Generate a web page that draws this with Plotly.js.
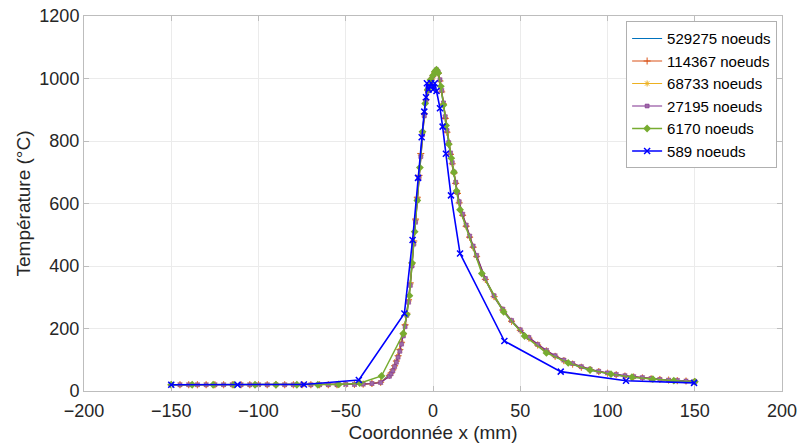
<!DOCTYPE html>
<html>
<head>
<meta charset="utf-8">
<script src="https://cdn.plot.ly/plotly-3.0.1.min.js"></script>
<style>html,body{margin:0;padding:0;background:#fff;}#chart{width:800px;height:448px;}</style>
</head>
<body>
<div id="chart"></div>
<script>
// Shared abscissa for the fine meshes (mm)
const xFine = [-150,-145,-140,-135,-130,-125,-120,-115,-110,-105,-100,-95,-90,-85,-80,-75,-70,-65,-60,-55,-50,-45,-40,-35,-30,-25,
  -24,-23,-22,-21,-20,-19,-18,-17,-16,-15,-14,-13,-12,-11,-10,-9,-8,-7,-6,-5,-4,-3,-2,-1,0,1,2,3,4,5,6,7,8,9,10,11,12,13,14,15,
  17,19,21,23,25,30,35,40,45,50,55,60,65,70,75,80,85,90,95,100,105,110,115,120,125,130,135,140,145,150];

const y529275 = [20,20,20,20,20,20,20,20,20,20,20,20,20,20,20,20,20,20,20,20,21,21,22,24,28,52,
  60,70,83,98,115,135,158,185,215,252,295,350,415,485,555,625,695,765,835,890,935,965,985,1000,1010,1020,1025,1015,990,955,
  915,870,825,788,755,725,695,662,630,600,
  560,525,490,458,428,355,300,258,222,193,168,146,127,110,96,85,75,67,61,56,51,47,44,41,38,36,34,33,31,30];

const y114367 = [20,20,20,20,20,20,20,20,20,20,20,20,20,20,20,20,20,20,20,20,21,21,22,24,28,50,
  58,68,81,96,113,133,156,183,212,249,292,346,410,480,550,620,690,760,830,888,932,962,984,998,1008,1018,1024,1016,992,957,
  918,872,828,790,757,727,697,664,632,602,
  562,527,492,460,430,357,302,259,223,194,169,147,128,111,97,86,76,68,62,57,52,48,45,42,39,37,35,33,32,30];

const y68733 = [20,20,20,20,20,20,20,20,20,20,20,20,20,20,20,20,20,20,20,20,21,21,22,24,28,49,
  57,67,80,95,112,131,154,180,210,246,288,342,405,475,545,615,685,755,825,885,930,960,982,997,1007,1018,1026,1018,994,960,
  920,875,830,792,759,729,699,666,634,604,
  564,529,494,462,432,358,303,260,224,195,170,148,129,112,98,87,77,69,62,57,52,48,45,42,39,37,35,33,32,31];

const y27195 = [20,20,20,20,20,20,20,20,20,20,20,20,20,20,20,20,20,20,20,20,21,21,22,24,27,47,
  55,65,78,92,108,127,150,176,206,242,284,338,400,470,540,610,680,750,820,880,928,960,982,998,1008,1020,1028,1020,996,962,
  922,878,834,795,762,731,701,668,636,606,
  566,531,496,464,434,360,305,262,226,196,171,149,130,113,99,88,78,70,63,58,53,49,46,43,40,37,35,34,32,31];

// 6170 nodes
const x6170 = [-150,-138,-126,-114,-102,-90,-78,-66,-54,-42,-29.5,-17,-15,-13.5,-12,-10.5,-9,-7.5,-6,-4.5,-3,-1.5,0,1,2,3,4.5,6,7.5,9,10.5,12,13.5,15.5,28,40.5,52.5,65,77.5,90,102,114,126,138,150];
const y6170 = [20,20,20,20,20,20,20,20,21,25,48,184,245,305,410,510,610,715,830,920,965,995,1010,1022,1028,1018,975,915,850,790,745,700,640,580,376,253,176,122,90,67,54,44,38,33,30];

// 589 nodes
const x589 = [-150,-112,-74,-42.5,-16.4,-11.7,-8.6,-6.5,-5,-4,-3.5,-2.5,-1,0,1,2,4,5.5,7.4,10.3,15.5,40.9,73.2,110.6,149.6];
const y589 = [20,20,21,35,248,483,682,812,894,940,985,965,985,965,985,960,905,846,759,626,440,160,62,33,26];

const names = ['529275 noeuds','114367 noeuds','68733 noeuds','27195 noeuds','6170 noeuds','589 noeuds'];

const traces = [
  {x:xFine, y:y529275, name:names[0], mode:'lines', line:{color:'#0072BD', width:1.2}},
  {x:xFine, y:y114367, name:names[1], mode:'lines+markers', line:{color:'#D95319', width:1.2},
   marker:{symbol:'cross-thin-open', size:5, line:{color:'#D95319', width:1}}},
  {x:xFine, y:y68733, name:names[2], mode:'lines+markers', line:{color:'#EDB120', width:1.2},
   marker:{symbol:'asterisk-open', size:5, line:{color:'#EDB120', width:1}}},
  {x:xFine, y:y27195, name:names[3], mode:'lines+markers', line:{color:'#7E2F8E', width:1.2},
   marker:{symbol:'square', size:4, color:'#9E6AA8', line:{color:'#7E2F8E', width:0.5}}},
  {x:x6170, y:y6170, name:names[4], mode:'lines+markers', line:{color:'#77AC30', width:1.5},
   marker:{symbol:'diamond', size:6, color:'#77AC30'}},
  {x:x589, y:y589, name:names[5], mode:'lines+markers', line:{color:'#0000FF', width:1.6},
   marker:{symbol:'x-thin-open', size:6, line:{color:'#0000FF', width:1.5}}}
];

const axisCommon = {
  showgrid:true, gridcolor:'#ebebeb', gridwidth:1, zeroline:false,
  showline:true, linecolor:'#bdbdbd', linewidth:1, mirror:'ticks',
  ticks:'inside', ticklen:5, tickcolor:'#bdbdbd',
  tickfont:{family:'Liberation Sans, Arial, sans-serif', size:18, color:'#262626'}
};

const layout = {
  width:800, height:448,
  margin:{l:84, r:18, t:16, b:57},
  paper_bgcolor:'#fff', plot_bgcolor:'#fff',
  font:{family:'Liberation Sans, Arial, sans-serif', color:'#262626'},
  xaxis:Object.assign({}, axisCommon, {range:[-200,200], dtick:50, tick0:-200, ticklabelstandoff:3,
    title:{text:'Coordonnée x (mm)', font:{size:19, color:'#262626'}, standoff:6}}),
  yaxis:Object.assign({}, axisCommon, {range:[0,1200], dtick:200, tick0:0,
    title:{text:'Température (°C)', font:{size:19, color:'#262626'}, standoff:3}}),
  showlegend:true,
  legend:{x:0.993, y:0.986, xanchor:'right', yanchor:'top', bgcolor:'#fff',
    bordercolor:'#b0b0b0', borderwidth:1, tracegroupgap:0, itemwidth:30,
    font:{family:'Liberation Sans, Arial, sans-serif', size:15, color:'#000'}}
};

Plotly.newPlot('chart', traces, layout, {staticPlot:true, displayModeBar:false});
</script>
</body>
</html>
